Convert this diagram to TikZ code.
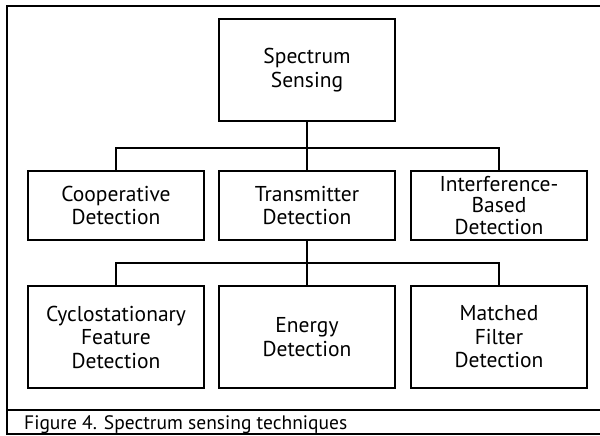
\documentclass[tikz,border=0pt]{standalone}
\usepackage{fontspec}
\setmainfont{PT Sans}
\begin{document}
\begin{tikzpicture}[x=1pt,y=-1pt,
  box/.style={draw, line width=1.8pt, minimum width=176pt, align=center,
    font=\fontsize{21.5}{23.5}\selectfont, inner sep=0pt},
  tall/.style={box, minimum height=102pt},
  short/.style={box, minimum height=69pt},
  tight/.style={font=\fontsize{21.5}{21.5}\selectfont},
  conn/.style={line width=1.8pt},
  frame/.style={line width=2pt}]
\useasboundingbox (0,0) rectangle (600,436);
% outer frame (open on the right) and caption divider
\draw[frame] (602,6) -- (7,6) -- (7,434) -- (602,434);
\draw[frame] (7,410) -- (602,410);
% nodes
\node[tall]  (ss) at (307,70)    {Spectrum\\Sensing};
\node[short] (cd) at (116,205.5) {Cooperative\\Detection};
\node[short] (td) at (307,205.5) {Transmitter\\Detection};
\node[short, tight] (ib) at (499,205.5) {Interference-\\Based\\Detection};
\node[tall]  (cf) at (116,337)   {Cyclostationary\\Feature\\Detection};
\node[tall]  (ed) at (307,337)   {Energy\\Detection};
\node[tall]  (mf) at (499,337)   {Matched\\Filter\\Detection};
\coordinate (bar1) at (307,148);
\coordinate (bar2) at (307,263);
% connectors
\draw[conn] (ss.south) -- (td.north);
\draw[conn] (cd.north) |- (bar1) -| (ib.north);
\draw[conn] (td.south) -- (ed.north);
\draw[conn] (cf.north) |- (bar2) -| (mf.north);
% caption
\node[anchor=west, inner sep=0pt, font=\fontsize{19.5}{22}\selectfont] (cap) at (24,425) {Figure 4. Spectrum sensing techniques};
\end{tikzpicture}
\end{document}
